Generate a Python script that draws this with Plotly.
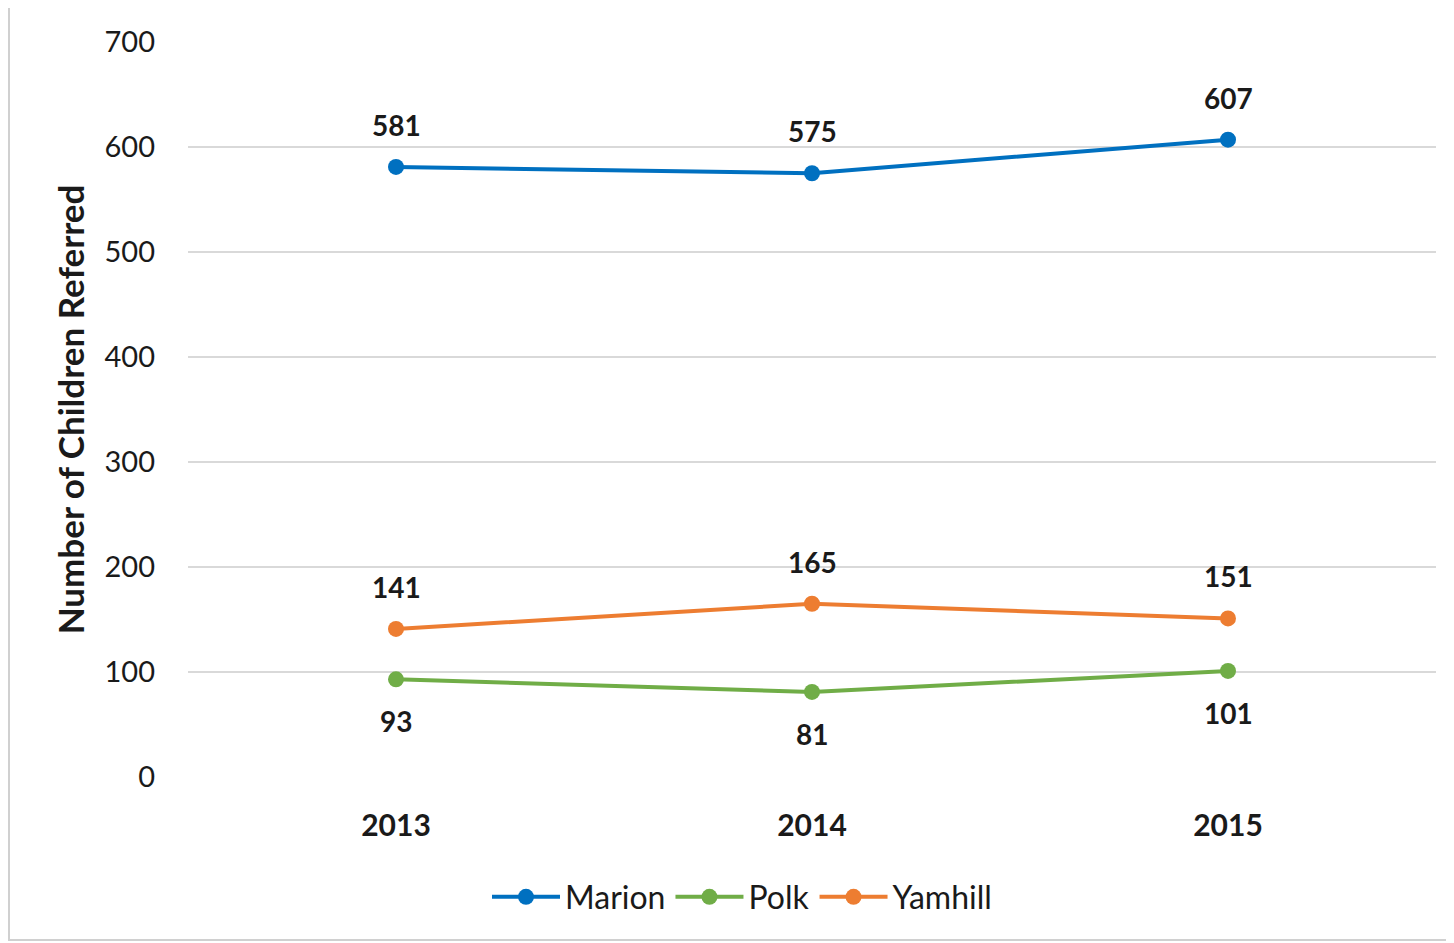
import plotly.graph_objects as go

years = ["2013", "2014", "2015"]
marion = [581, 575, 607]
polk = [93, 81, 101]
yamhill = [141, 165, 151]
y_ticks = [0, 100, 200, 300, 400, 500, 600, 700]

series = [
    ("Marion", marion, "#0070C0", 1),
    ("Polk", polk, "#70AD47", -1),
    ("Yamhill", yamhill, "#ED7D31", 1),
]

FONT = "Lato"
TXT = "#1a1a1a"
fig = go.Figure()
annotations = []
for name, vals, color, side in series:
    fig.add_trace(go.Scatter(
        x=years, y=vals, name=name, mode="lines+markers",
        line=dict(color=color, width=4),
        marker=dict(color=color, size=16),
    ))
    for i, v in enumerate(vals):
        annotations.append(dict(
            xref="x", yref="y", x=i, y=v, text="<b>%d</b>" % v, showarrow=False,
            yshift=42 * side,
            font=dict(family=FONT, size=28, color=TXT),
        ))

# page has an 8px body margin; work in figure coordinates (page - 8)
OFF = 8
W, H = 1454 - OFF, 943 - OFF
ml, mt = 188 - OFF, 42 - OFF
plot_right = 1436 - OFF
plot_bottom = 777 - OFF
mr, mb = W - plot_right, H - plot_bottom
pw, ph = plot_right - ml, plot_bottom - mt

def px(x):
    return (x - OFF - ml) / pw

def py(y):
    return (plot_bottom - (y - OFF)) / ph

fig.update_layout(
    width=W, height=H,
    margin=dict(l=ml, r=mr, t=mt, b=mb),
    paper_bgcolor="white", plot_bgcolor="white",
    font=dict(family=FONT, color=TXT),
    showlegend=True,
    legend=dict(
        orientation="h", x=px(742), xanchor="center", y=py(897), yanchor="middle",
        font=dict(family=FONT, size=32, color=TXT),
        tracegroupgap=0, itemwidth=68,
    ),
    annotations=annotations,
    xaxis=dict(
        type="category", range=[-0.5, 2.5], showgrid=False, zeroline=False,
        showline=False, ticks="",
        tickfont=dict(family=FONT, size=30, color=TXT, weight="bold"),
        ticklabelstandoff=28,
    ),
    yaxis=dict(
        range=[0, 700], tickvals=y_ticks, showgrid=True, gridcolor="#D9D9D9",
        gridwidth=1.5, zeroline=False, showline=False, ticks="",
        tickfont=dict(family=FONT, size=29, color=TXT),
        ticklabelstandoff=32,
        title=dict(text="<b>Number of Children Referred</b>", standoff=9,
                   font=dict(family=FONT, size=35, color=TXT)),
    ),
    shapes=[dict(
        type="rect", xref="paper", yref="paper",
        x0=px(9), x1=px(1451), y0=py(940), y1=py(7),
        line=dict(color="#D0D0D0", width=2), fillcolor="rgba(0,0,0,0)", layer="below",
    )],
)

fig.write_html("out.html")
